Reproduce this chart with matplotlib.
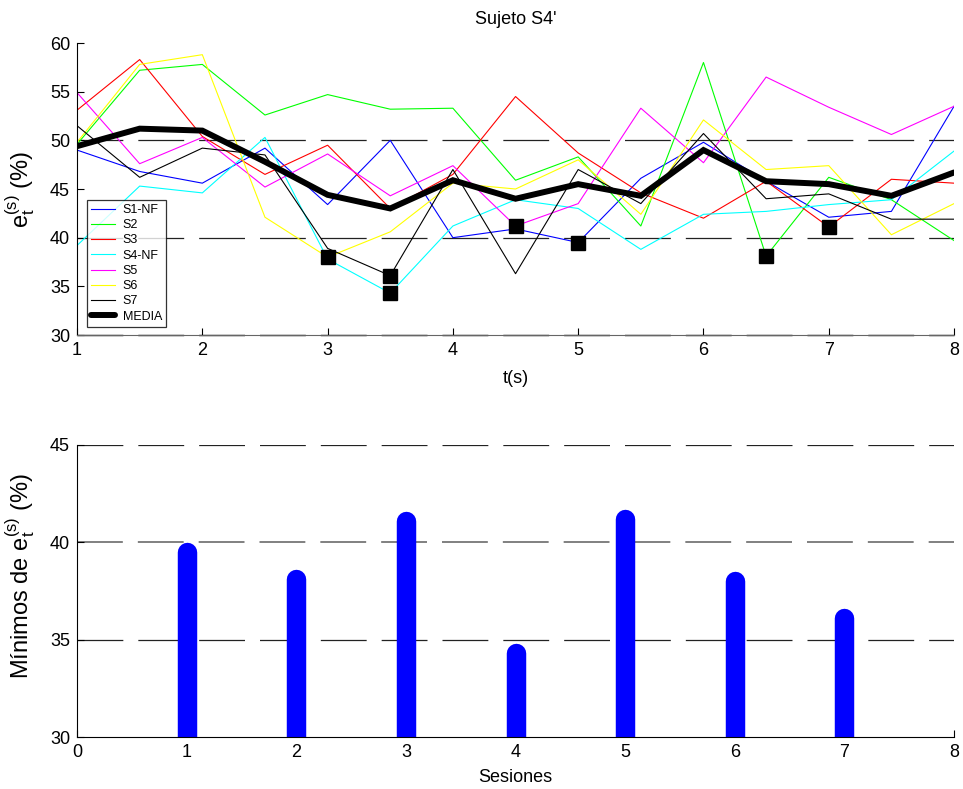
import matplotlib
matplotlib.use("Agg")
import matplotlib.pyplot as plt

plt.rcParams['font.family'] = ['Liberation Sans', 'DejaVu Sans']
plt.rcParams['mathtext.fontset'] = 'custom'
plt.rcParams['mathtext.rm'] = 'Liberation Sans'
plt.rcParams['lines.scale_dashes'] = False

# Time samples (s)
t = [1.0, 1.5, 2.0, 2.5, 3.0, 3.5, 4.0, 4.5, 5.0, 5.5, 6.0, 6.5, 7.0, 7.5, 8.0]

# Error per session (%)
s1_nf = [49.0, 46.8, 45.6, 49.2, 43.4, 50.0, 40.0, 40.9, 39.5, 46.1, 49.8, 45.8, 42.1, 42.7, 53.5]
s2 = [49.6, 57.2, 57.8, 52.6, 54.7, 53.2, 53.3, 45.9, 48.3, 41.2, 58.0, 38.1, 46.2, 43.9, 39.7]
s3 = [53.1, 58.3, 50.4, 46.5, 49.5, 43.0, 46.5, 54.5, 48.7, 44.6, 42.0, 45.8, 41.1, 46.0, 45.6]
s4_nf = [39.2, 45.3, 44.6, 50.3, 37.8, 34.3, 41.2, 43.9, 43.0, 38.8, 42.4, 42.7, 43.4, 43.9, 48.9]
s5 = [54.9, 47.6, 50.3, 45.2, 48.6, 44.3, 47.4, 41.2, 43.5, 53.3, 47.7, 56.5, 53.4, 50.6, 53.5]
s6 = [49.8, 57.8, 58.8, 42.1, 38.0, 40.6, 45.6, 45.0, 48.0, 42.4, 52.1, 47.0, 47.4, 40.3, 43.5]
s7 = [51.5, 46.2, 49.2, 48.5, 38.9, 36.1, 47.0, 36.3, 47.0, 43.5, 50.7, 44.0, 44.5, 41.9, 41.9]
media = [49.4, 51.2, 51.0, 47.8, 44.4, 43.0, 45.9, 44.0, 45.5, 44.3, 49.0, 45.8, 45.5, 44.3, 46.7]

labels = ['S1-NF', 'S2', 'S3', 'S4-NF', 'S5', 'S6', 'S7']
colors = ['#0000ff', '#00ff00', '#ff0000', '#00ffff', '#ff00ff', '#ffff00', '#000000']
series = [s1_nf, s2, s3, s4_nf, s5, s6, s7]

sesiones = [1, 2, 3, 4, 5, 6, 7]

DASH = (33.0, 10.8)

fig = plt.figure(figsize=(9.63, 7.89), dpi=100)
ax1 = fig.add_axes([0.0800, 0.5754, 0.9107, 0.3701])
ax2 = fig.add_axes([0.0800, 0.0659, 0.9107, 0.3701])

# ---- upper panel: error curves ----
for yv in (40, 50):
    ax1.axhline(yv, color='#222222', lw=0.9, dashes=DASH, zorder=1)
ax1.axhline(30, color='#000000', lw=1.0, dashes=DASH, zorder=1, clip_on=False)

for vals, lab, col in zip(series, labels, colors):
    ax1.plot(t, vals, color=col, lw=0.8, label=lab, zorder=2)
ax1.plot(t, media, color='black', lw=4.3, label='MEDIA', zorder=3,
         solid_joinstyle='miter', solid_capstyle='round')

# minimum of every session
min_t = []
min_v = []
for vals in series:
    i = vals.index(min(vals))
    min_t.append(t[i])
    min_v.append(vals[i])
ax1.plot(min_t, min_v, linestyle='none', marker='s', markersize=9.5,
         color='black', zorder=4)

ax1.set_xlim(1, 8)
ax1.set_ylim(30, 60)
ax1.set_xticks(range(1, 9))
ax1.set_yticks(range(30, 61, 5))
ax1.spines['top'].set_visible(False)
ax1.spines['right'].set_visible(False)
ax1.spines['bottom'].set_color('#666666')
ax1.tick_params(direction='in', length=5, width=0.8, labelsize=13, pad=5)
ax1.set_title("Sujeto S4'", fontsize=13, pad=14)
ax1.set_xlabel('t(s)', fontsize=13, labelpad=8)
ax1.set_ylabel(r'$\mathregular{e_t^{(s)}}$ (%)', fontsize=17)
ax1.yaxis.set_label_coords(-0.0456, 0.5)

leg = ax1.legend(loc='lower left', bbox_to_anchor=(0.0114, 0.0274),
                 borderaxespad=0, fontsize=9, frameon=True, fancybox=False,
                 edgecolor='black', handlelength=1.9, handletextpad=0.6,
                 labelspacing=0.26, borderpad=0.35)
leg.get_frame().set_linewidth(0.9)

# ---- lower panel: minima per session ----
ax2.axhline(45, color='#222222', lw=0.9, dashes=DASH, zorder=1)
ax2.axhline(40, color='#808080', lw=1.4, dashes=DASH, zorder=1)
ax2.axhline(35, color='#222222', lw=0.9, dashes=DASH, zorder=1)

ax2.vlines(sesiones, 30, min_v, colors='#0000ff', linewidth=14,
           capstyle='round', zorder=2)

ax2.set_xlim(0, 8)
ax2.set_ylim(30, 45)
ax2.set_xticks(range(0, 9))
ax2.set_yticks([30, 35, 40, 45])
ax2.spines['top'].set_visible(False)
ax2.spines['right'].set_visible(False)
ax2.tick_params(direction='in', length=5, width=0.8, labelsize=13, pad=5)
ax2.set_xlabel('Sesiones', fontsize=13, labelpad=6)
ax2.set_ylabel(r'Mínimos de $\mathregular{e_t^{(s)}}$ (%)', fontsize=17)
ax2.yaxis.set_label_coords(-0.0456, 0.55)

fig.savefig('out.png', dpi=100)
